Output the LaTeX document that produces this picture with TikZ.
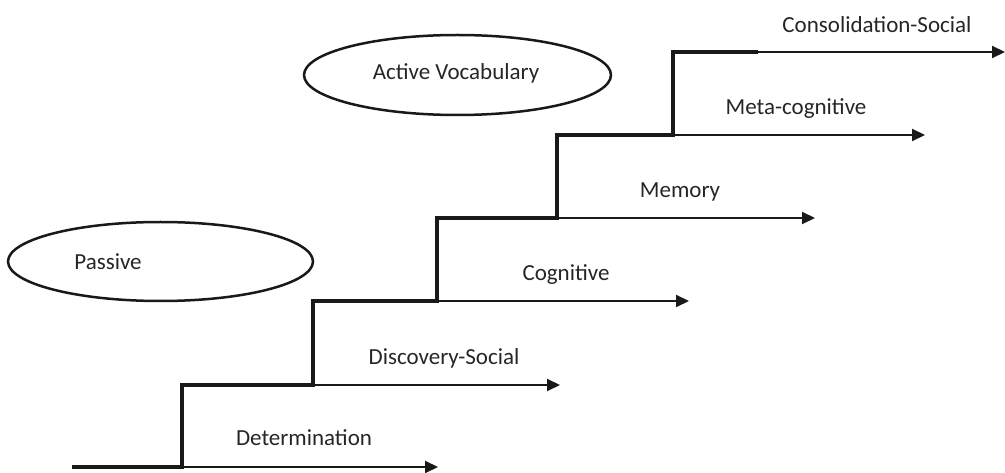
\documentclass[tikz,border=0pt]{standalone}
\usepackage{fontspec}
\setmainfont{Carlito}
\usetikzlibrary{arrows.meta,shapes.geometric}
\begin{document}
\begin{tikzpicture}[x=1pt,y=-1pt,
  stair/.style={line width=4.5pt,line join=miter,black!90},
  arr/.style={line width=2pt,black!90,-{Triangle[length=13pt,width=12pt]}},
  lbl/.style={font=\fontsize{23}{27}\selectfont,text=black!85,inner sep=0pt},
  oval/.style={ellipse,draw=black!90,line width=2.5pt,inner sep=0pt}]
\useasboundingbox (0,0) rectangle (1005,473);
% step corners
\coordinate (s0) at (72,467);
\coordinate (b1) at (182,467);
\coordinate (t1) at (182,385);
\coordinate (b2) at (313,385);
\coordinate (t2) at (313,301);
\coordinate (b3) at (437,301);
\coordinate (t3) at (437,218);
\coordinate (b4) at (557,218);
\coordinate (t4) at (557,135);
\coordinate (b5) at (673,135);
\coordinate (t5) at (673,52);
\coordinate (t6) at (758,52);
% arrow ends
\coordinate (e1) at (438,467);
\coordinate (e2) at (560,385);
\coordinate (e3) at (689,301);
\coordinate (e4) at (815,218);
\coordinate (e5) at (925,135);
\coordinate (e6) at (1005,52);
% arrows
\draw[arr] (b1) -- (e1);
\draw[arr] (b2) -- (e2);
\draw[arr] (b3) -- (e3);
\draw[arr] (b4) -- (e4);
\draw[arr] (b5) -- (e5);
\draw[arr] (t6) -- (e6);
% staircase
\draw[stair] (s0) -- (b1) -- (t1) -- (b2) -- (t2) -- (b3) -- (t3) -- (b4) -- (t4) -- (b5) -- (t5) -- (t6);
% labels
\node[lbl] (l1) at (304,438) {Determination};
\node[lbl] (l2) at (444,358) {Discovery-Social};
\node[lbl] (l3) at (566,275) {Cognitive};
\node[lbl] (l4) at (680,192) {Memory};
\node[lbl] (l5) at (796,109) {Meta-cognitive};
\node[lbl] (l6) at (877,25) {Consolidation-Social};
% ellipses
\node[oval,minimum width=305pt,minimum height=79pt] (pas) at (160.5,261.5) {};
\node[lbl] (pastxt) at (108,262) {Passive};
\node[oval,minimum width=307pt,minimum height=80pt] (act) at (457.5,75) {};
\node[lbl] (acttxt) at (456,73) {Active Vocabulary};
\end{tikzpicture}
\end{document}
